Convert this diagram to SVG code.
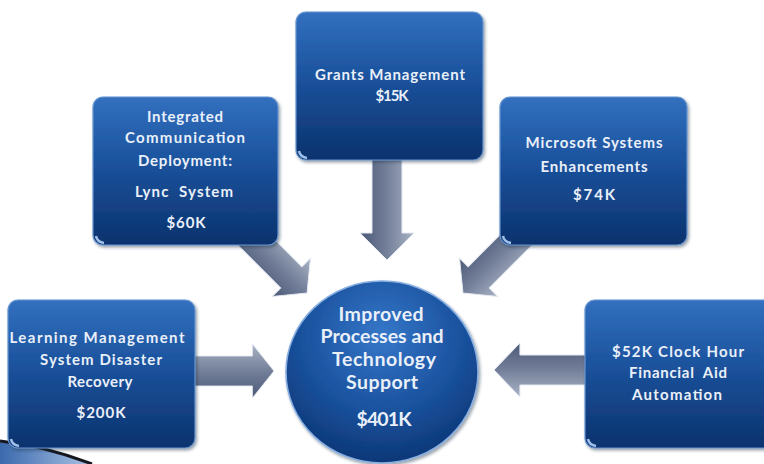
<svg xmlns="http://www.w3.org/2000/svg" width="764" height="464" viewBox="0 0 764 464">
<defs>
<linearGradient id="boxg" x1="0" y1="0" x2="0" y2="1">
<stop offset="0" stop-color="#3270bf"/>
<stop offset="0.45" stop-color="#1b529c"/>
<stop offset="1" stop-color="#0b326d"/>
</linearGradient>
<radialGradient id="circg" cx="0.5" cy="0.3" r="0.75">
<stop offset="0" stop-color="#3677c9"/>
<stop offset="0.55" stop-color="#1a529e"/>
<stop offset="1" stop-color="#0a3270"/>
</radialGradient>
<linearGradient id="arrg" x1="0" y1="0" x2="0" y2="1">
<stop offset="0" stop-color="#a9b3c5"/>
<stop offset="0.5" stop-color="#74809a"/>
<stop offset="1" stop-color="#4c5977"/>
</linearGradient>
<linearGradient id="swg" x1="0" y1="0" x2="1" y2="0">
<stop offset="0" stop-color="#3a69ad"/>
<stop offset="1" stop-color="#aac2e4"/>
</linearGradient>
<filter id="sh" x="-10%" y="-10%" width="125%" height="125%">
<feDropShadow dx="1.5" dy="2" stdDeviation="1.8" flood-color="#1a2a40" flood-opacity="0.45"/>
</filter>
<path id="arrow" d="M -110,-15 L -27,-15 L -27,-27 L 0,0 L -27,27 L -27,15 L -110,15 Z"/>
</defs>
<style>
.box{fill:url(#boxg);stroke:#6593d0;stroke-width:1.2;filter:url(#sh)}
.circ{fill:url(#circg);stroke:#86aee2;stroke-width:1.6;filter:url(#sh)}
.arr{fill:url(#arrg);stroke:#e4e9f1;stroke-width:1}
.t{font-family:Lato,"Open Sans","Liberation Sans",sans-serif;font-size:15px;font-weight:bold;fill:#eaf0f9;text-anchor:middle}
.c{font-family:Lato,"Open Sans","Liberation Sans",sans-serif;font-size:19.5px;font-weight:bold;fill:#eaf0f9;text-anchor:middle}
.curl{fill:none;stroke:#9fc0ea;stroke-width:2.5}
</style>
<rect width="764" height="464" fill="#ffffff"/>
<g id="swoosh">
<path d="M0,442 Q45,447 92,464 L0,464 Z" fill="url(#swg)"/>
<path d="M0,441 Q45,446 92,464" fill="none" stroke="#15171f" stroke-width="3"/>
</g>
<g id="connectors">
<use href="#arrow" class="arr" transform="translate(387,260) rotate(90)"/>
<use href="#arrow" class="arr" transform="translate(307,293) rotate(45) scale(0.82,1)"/>
<use href="#arrow" class="arr" transform="translate(463,293) rotate(135) scale(0.82,1)"/>
<use href="#arrow" class="arr" transform="translate(274,371) scale(0.8,1)"/>
<use href="#arrow" class="arr" transform="translate(494,370) rotate(180) scale(0.96,1)"/>
</g>
<g id="node-integrated">
<rect class="box" x="93" y="97" width="185" height="148" rx="10"/>
<path class="curl" d="M96,236 Q97,242 104,243"/>
<text class="t" x="185" y="122" textLength="76">Integrated</text>
<text class="t" x="185" y="143" textLength="120">Communication</text>
<text class="t" x="185" y="166" textLength="94">Deployment:</text>
<text class="t" x="184" y="197" textLength="98" xml:space="preserve">Lync  System</text>
<text class="t" x="186" y="228" textLength="39">$60K</text>
</g>
<g id="node-grants">
<rect class="box" x="296" y="12" width="187" height="148" rx="10"/>
<path class="curl" d="M299,151 Q300,157 307,158"/>
<text class="t" x="390" y="80" textLength="150">Grants Management</text>
<text class="t" x="392" y="101" textLength="33">$15K</text>
</g>
<g id="node-microsoft">
<rect class="box" x="500" y="97" width="187" height="148" rx="10"/>
<path class="curl" d="M503,236 Q504,242 511,243"/>
<text class="t" x="594" y="148" textLength="137">Microsoft Systems</text>
<text class="t" x="594" y="172" textLength="107">Enhancements</text>
<text class="t" x="594" y="200" textLength="42">$74K</text>
</g>
<g id="node-lms">
<rect class="box" x="8" y="300" width="187" height="148" rx="10"/>
<path class="curl" d="M11,439 Q12,445 19,446"/>
<text class="t" x="97" y="343" textLength="175">Learning Management</text>
<text class="t" x="101" y="365" textLength="122">System Disaster</text>
<text class="t" x="100" y="387" textLength="65">Recovery</text>
<text class="t" x="101" y="418" textLength="49">$200K</text>
</g>
<g id="node-clockhour">
<rect class="box" x="585" y="300" width="190" height="148" rx="10"/>
<path class="curl" d="M588,439 Q589,445 596,446"/>
<text class="t" x="678" y="357" textLength="132">$52K Clock Hour</text>
<text class="t" x="678" y="378" textLength="98" xml:space="preserve">Financial  Aid</text>
<text class="t" x="677" y="400" textLength="90">Automation</text>
</g>
<g id="node-center">
<ellipse class="circ" cx="382" cy="372" rx="96" ry="91"/>
<text class="c" x="381" y="321" textLength="85">Improved</text>
<text class="c" x="382" y="343" textLength="123">Processes and</text>
<text class="c" x="384" y="366" textLength="104">Technology</text>
<text class="c" x="382" y="389" textLength="72">Support</text>
<text class="c" x="384" y="426" textLength="55">$401K</text>
</g>
</svg>
